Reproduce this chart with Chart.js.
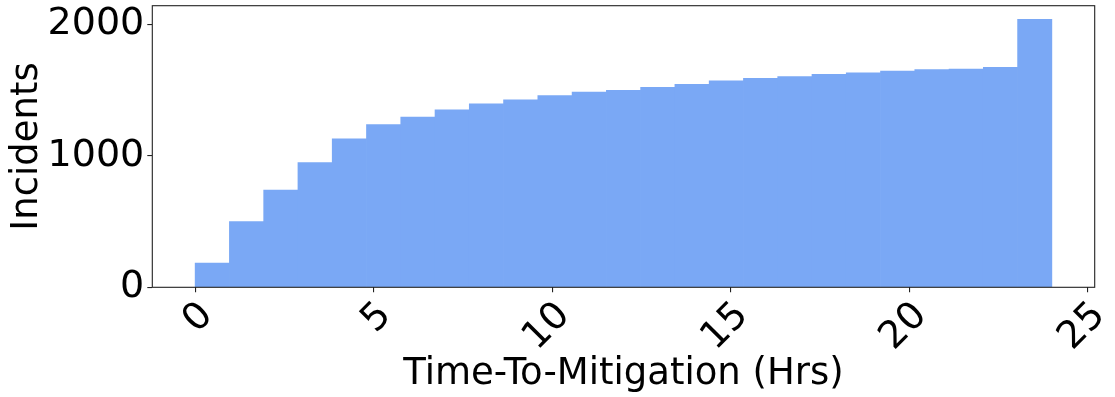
<!DOCTYPE html>
<html>
<head>
<meta charset="utf-8">
<script src="https://cdn.jsdelivr.net/npm/chart.js@4"></script>
<style>
  html, body { margin: 0; padding: 0; background: #ffffff; }
  #wrap { width: 1115px; height: 397px; }
</style>
</head>
<body>
<div id="wrap"><canvas id="c" width="1115" height="397"></canvas></div>
<script>
// Histogram bins: 25 bins of width 0.96 h spanning 0..24 h (bin centres)
const binCenters = [0.48, 1.44, 2.40, 3.36, 4.32, 5.28, 6.24, 7.20, 8.16, 9.12,
                    10.08, 11.04, 12.00, 12.96, 13.92, 14.88, 15.84, 16.80, 17.76, 18.72,
                    19.68, 20.64, 21.60, 22.56, 23.52];
// Incident counts per bin
const incidents = [185, 499, 740, 948, 1128, 1237, 1295, 1349, 1394, 1425,
                   1458, 1485, 1498, 1521, 1544, 1569, 1589, 1602, 1620, 1630,
                   1643, 1655, 1660, 1673, 2038];
const xTicks = [0, 5, 10, 15, 20, 25];
const yTicks = [0, 1000, 2000];
const xTitle = 'Time-To-Mitigation (Hrs)';
const yTitle = 'Incidents';

const FONT = "'DejaVu Sans', 'Liberation Sans', sans-serif";
const barColor = 'rgb(122,168,245)';

const framePlugin = {
  id: 'frame',
  afterDraw(chart) {
    const a = chart.chartArea, ctx = chart.ctx;
    ctx.save();
    ctx.strokeStyle = '#222';
    ctx.lineWidth = 1.1;
    ctx.strokeRect(a.left, a.top, a.right - a.left, a.bottom - a.top);
    ctx.restore();
  }
};

new Chart(document.getElementById('c'), {
  type: 'bar',
  data: {
    datasets: [{
      data: binCenters.map((x, i) => ({ x: x, y: incidents[i] })),
      backgroundColor: barColor,
      borderWidth: 0,
      barPercentage: 1.0,
      categoryPercentage: 1.0
    }]
  },
  options: {
    responsive: false,
    animation: false,
    devicePixelRatio: 1,
    layout: { padding: { left: 0, top: 5.7, right: 20.3, bottom: 0 } },
    plugins: { legend: { display: false }, tooltip: { enabled: false } },
    scales: {
      x: {
        type: 'linear',
        offset: false,
        min: -1.2,
        max: 25.2,
        afterBuildTicks(scale) { scale.ticks = xTicks.map(v => ({ value: v })); },
        afterFit(scale) { scale.height = 109.7; scale.paddingLeft = 0; scale.paddingRight = 0; },
        grid: { display: true, offset: false, drawOnChartArea: false, drawTicks: true, tickLength: 5, color: '#222', lineWidth: 1.1 },
        border: { display: false },
        ticks: {
          minRotation: 45, maxRotation: 45,
          autoSkip: false,
          padding: 4,
          labelOffset: 12,
          color: '#000',
          font: { family: FONT, size: 38, lineHeight: 1 },
          callback: (v) => String(v)
        },
        title: {
          display: true, text: xTitle, color: '#000',
          font: { family: FONT, size: 37, lineHeight: 1 },
          padding: { top: 0, bottom: 4.6 }
        }
      },
      y: {
        min: 0,
        max: 2141,
        afterBuildTicks(scale) { scale.ticks = yTicks.map(v => ({ value: v })); },
        afterFit(scale) { scale.width = 152.3; scale.paddingTop = 0; scale.paddingBottom = 0; },
        grid: { display: true, drawOnChartArea: false, drawTicks: true, tickLength: 5, color: '#222', lineWidth: 1.1 },
        border: { display: false },
        ticks: {
          padding: 3,
          color: '#000',
          font: { family: FONT, size: 38 },
          callback: (v) => String(v)
        },
        title: {
          display: true, text: yTitle, color: '#000',
          font: { family: FONT, size: 37, lineHeight: 1 },
          padding: { top: 8.5, bottom: 0 }
        }
      }
    }
  },
  plugins: [framePlugin]
});
</script>
</body>
</html>
